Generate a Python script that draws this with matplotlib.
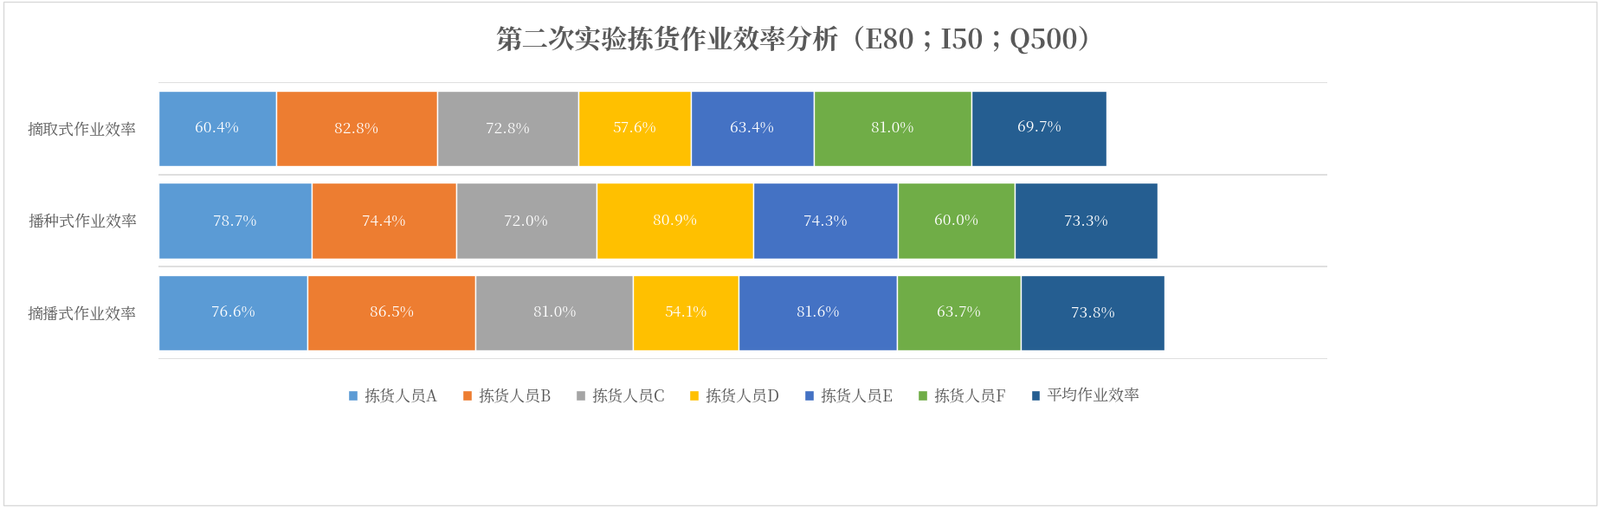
import matplotlib.pyplot as plt
from matplotlib import font_manager
from matplotlib.patches import Rectangle

# pick whatever CJK font is actually registered
cjk = [f.name for f in font_manager.fontManager.ttflist if 'CJK' in f.name]
pref = [n for n in cjk if 'SC' in n] or cjk
plt.rcParams['font.family'] = (pref[:1] if pref else []) + ['Noto Sans CJK SC', 'DejaVu Sans']

categories = ['摘取式作业效率', '播种式作业效率', '摘播式作业效率']
series_names = ['拣货人员A', '拣货人员B', '拣货人员C', '拣货人员D', '拣货人员E', '拣货人员F', '平均作业效率']
values = [
    [60.4, 78.7, 76.6],
    [82.8, 74.4, 86.5],
    [72.8, 72.0, 81.0],
    [57.6, 80.9, 54.1],
    [63.4, 74.3, 81.6],
    [81.0, 60.0, 63.7],
    [69.7, 73.3, 73.8],
]
colors = ['#5B9BD5', '#ED7D31', '#A5A5A5', '#FFC000', '#4472C4', '#70AD47', '#255E91']

fig = plt.figure(figsize=(18.48, 5.86), dpi=100)
fig.patches.append(Rectangle((0.002, 0.003), 0.996, 0.994, transform=fig.transFigure,
                             fill=False, edgecolor='#d9d9d9', lw=1))
ax = fig.add_axes([0.099, 0.292, 0.7305, 0.546])

y = list(range(len(categories)))
left = [0.0] * len(categories)
for name, vals, c in zip(series_names, values, colors):
    ax.barh(y, vals, left=left, height=0.82, color=c, label=name,
            edgecolor='white', linewidth=1)
    for i, v in enumerate(vals):
        ax.text(left[i] + v / 2, i, f'{v:.1f}%', ha='center', va='center',
                color='white', fontsize=12.5)
    left = [l + v for l, v in zip(left, vals)]

ax.set_xlim(0, 601)
ax.set_ylim(2.5, -0.5)
ax.set_yticks(y)
ax.set_yticklabels(categories, fontsize=13, color='#595959')
ax.tick_params(axis='y', length=0, pad=18)
ax.set_xticks([])
for b in [-0.5, 0.5, 1.5, 2.5]:
    ax.axhline(b, color='#d9d9d9', lw=1.2, zorder=0)
for s in ax.spines.values():
    s.set_visible(False)

fig.text(0.5, 0.92, '第二次实验拣货作业效率分析（E80；I50；Q500）', ha='center', va='center',
         fontsize=22, color='#595959', fontweight='bold')
fig.legend(loc='center', bbox_to_anchor=(0.465, 0.218), ncol=7, frameon=False,
           fontsize=13, handlelength=0.6, handleheight=0.6, columnspacing=1.6,
           handletextpad=0.4, labelcolor='#595959')

fig.savefig('out.png')
